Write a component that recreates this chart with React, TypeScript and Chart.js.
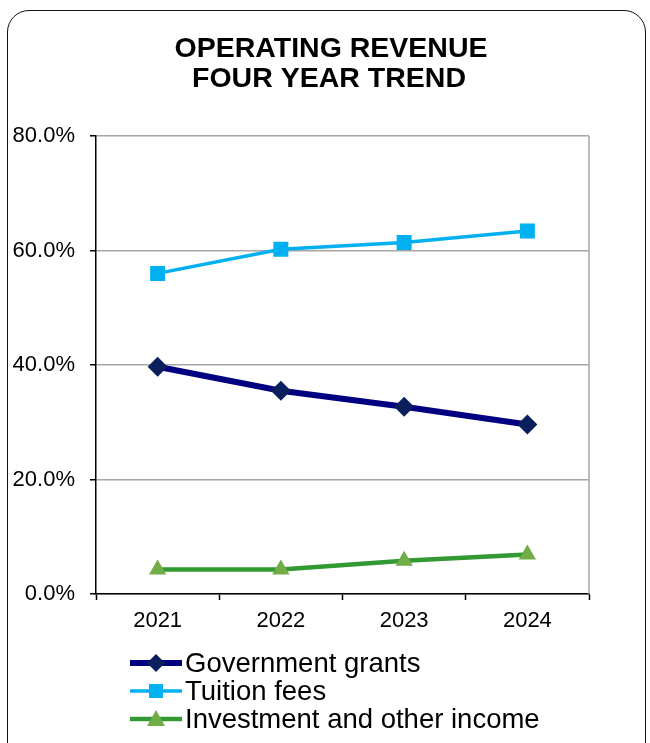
import React, { useEffect, useRef } from "react";
import { Chart, registerables } from "chart.js";

Chart.register(...registerables);

const years = ["2021", "2022", "2023", "2024"];
const governmentGrants = [39.7, 35.5, 32.7, 29.6];
const tuitionFees = [56.0, 60.2, 61.4, 63.4];
const investmentIncome = [4.3, 4.3, 5.8, 6.9];
const titleLines = ["OPERATING REVENUE", "FOUR YEAR TREND"];
const seriesNames = ["Government grants", "Tuition fees", "Investment and other income"];
const yTicks = [0, 20, 40, 60, 80];

const FONT = "'Liberation Sans', Arial, sans-serif";

const titlePlugin = {
  id: "customTitle",
  afterDraw(chart: any) {
    const ctx = chart.ctx;
    ctx.save();
    ctx.fillStyle = "#000";
    ctx.font = `bold 28.5px ${FONT}`;
    ctx.textAlign = "center";
    ctx.textBaseline = "alphabetic";
    ctx.fillText(titleLines[0], 331, 57);
    ctx.fillText(titleLines[1], 329, 87);
    ctx.restore();
  },
};

const framePlugin = {
  id: "frame",
  beforeDatasetsDraw(chart: any) {
    const { ctx, chartArea } = chart;
    ctx.save();
    ctx.strokeStyle = "#a6a6a6";
    ctx.lineWidth = 1.5;
    ctx.beginPath();
    ctx.moveTo(chartArea.right, chartArea.top);
    ctx.lineTo(chartArea.right, chartArea.bottom);
    ctx.stroke();
    ctx.restore();
  },
};

const legendPlugin = {
  id: "customLegend",
  afterDraw(chart: any) {
    const ctx = chart.ctx;
    const rows = [663, 691, 719];
    const x0 = 130;
    const x1 = 182;
    const xm = 156;
    ctx.save();
    chart.data.datasets.forEach((ds: any, i: number) => {
      const y = rows[i];
      ctx.strokeStyle = ds.borderColor;
      ctx.lineWidth = ds.borderWidth;
      ctx.beginPath();
      ctx.moveTo(x0, y);
      ctx.lineTo(x1, y);
      ctx.stroke();
      ctx.fillStyle = ds.pointBackgroundColor;
      ctx.beginPath();
      if (i === 0) {
        ctx.moveTo(xm, y - 9);
        ctx.lineTo(xm + 9, y);
        ctx.lineTo(xm, y + 9);
        ctx.lineTo(xm - 9, y);
      } else if (i === 1) {
        ctx.rect(xm - 7, y - 7, 14, 14);
      } else {
        ctx.moveTo(xm, y - 9);
        ctx.lineTo(xm + 9, y + 7);
        ctx.lineTo(xm - 9, y + 7);
      }
      ctx.closePath();
      ctx.fill();
      ctx.fillStyle = "#000";
      ctx.font = `27.5px ${FONT}`;
      ctx.textAlign = "left";
      ctx.textBaseline = "middle";
      ctx.fillText(seriesNames[i], 185, y + 1);
    });
    ctx.restore();
  },
};

export default function App() {
  const canvasRef = useRef<HTMLCanvasElement | null>(null);

  useEffect(() => {
    if (!canvasRef.current) return;
    const chart = new Chart(canvasRef.current, {
      type: "line",
      data: {
        labels: years,
        datasets: [
          {
            label: seriesNames[0],
            data: governmentGrants,
            borderColor: "#000080",
            borderWidth: 6,
            pointStyle: "rectRot",
            pointRadius: 10,
            pointBackgroundColor: "#0a1f5c",
            pointBorderColor: "#0a1f5c",
            pointBorderWidth: 0,
          },
          {
            label: seriesNames[1],
            data: tuitionFees,
            borderColor: "#00b0f0",
            borderWidth: 3.5,
            pointStyle: "rect",
            pointRadius: 10.6,
            pointBackgroundColor: "#00b0f0",
            pointBorderColor: "#00b0f0",
            pointBorderWidth: 0,
          },
          {
            label: seriesNames[2],
            data: investmentIncome,
            borderColor: "#339933",
            borderWidth: 4.5,
            pointStyle: "triangle",
            pointRadius: 10,
            pointBackgroundColor: "#70ad47",
            pointBorderColor: "#70ad47",
            pointBorderWidth: 0,
          },
        ],
      },
      options: {
        animation: false,
        responsive: false,
        devicePixelRatio: 1,
        layout: { padding: { left: 0, right: 61, top: 136, bottom: 109 } },
        plugins: {
          legend: { display: false },
          title: { display: false },
          tooltip: { enabled: false },
        },
        scales: {
          x: {
            type: "category",
            offset: true,
            grid: {
              offset: true,
              drawOnChartArea: false,
              drawTicks: true,
              tickLength: 6,
              tickColor: "#000",
              tickWidth: 1.5,
            },
            border: { color: "#000", width: 1.5 },
            ticks: {
              color: "#000",
              font: { family: FONT, size: 22 },
              padding: 8,
              maxRotation: 0,
            },
            afterFit(scale: any) {
              scale.height = 40;
            },
          },
          y: {
            min: 0,
            max: 80,
            afterBuildTicks(scale: any) {
              scale.ticks = yTicks.map((v) => ({ value: v }));
            },
            grid: {
              color: "#a6a6a6",
              lineWidth: 1.5,
              tickLength: 6,
              tickColor: "#000",
              tickWidth: 1.5,
            },
            border: { color: "#000", width: 1.5 },
            ticks: {
              color: "#000",
              font: { family: FONT, size: 22 },
              padding: 15,
              callback: (v: any) => Number(v).toFixed(1) + "%",
            },
            afterFit(scale: any) {
              scale.width = 96;
            },
          },
        },
      },
      plugins: [titlePlugin, framePlugin, legendPlugin],
    });
    return () => chart.destroy();
  }, []);

  return (
    <div style={{ position: "absolute", left: 0, top: 0, width: 650, height: 743, overflow: "hidden", background: "#fff" }}>
      <div
        style={{
          position: "absolute",
          left: 7,
          top: 10,
          width: 639,
          height: 780,
          border: "1.5px solid #111",
          borderRadius: 22,
          boxSizing: "border-box",
        }}
      />
      <canvas ref={canvasRef} width={650} height={743} style={{ position: "absolute", left: 0, top: 0 }} />
    </div>
  );
}
